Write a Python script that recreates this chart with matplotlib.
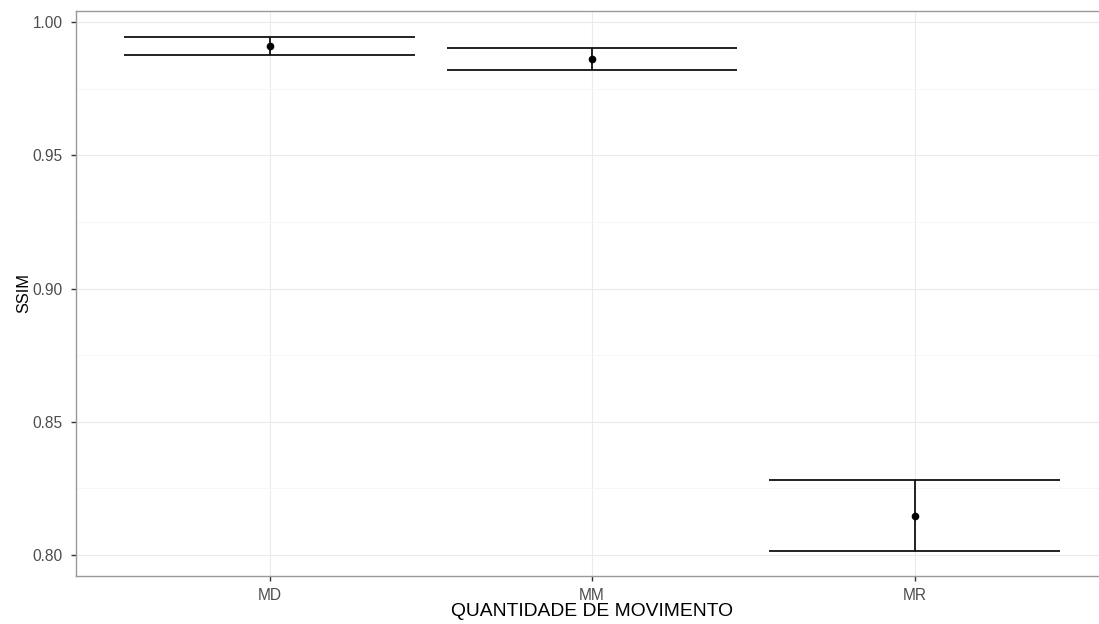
import matplotlib

matplotlib.use('Agg')
from matplotlib import pyplot as plt
from matplotlib.ticker import MultipleLocator, FormatStrFormatter

plt.rcParams['font.family'] = ['Liberation Sans', 'DejaVu Sans']

# SSIM por quantidade de movimento (media e intervalo)
categories = ['MD', 'MM', 'MR']
ssim_mean = [0.9911, 0.9861, 0.8147]
ssim_low = [0.9877, 0.9820, 0.8016]
ssim_high = [0.9945, 0.9902, 0.8280]

fig = plt.figure(figsize=(10.99, 6.24), dpi=100)
# panel is wider than the picture: right border is cut off like in the original
ax = fig.add_axes([76 / 1099, 48.3 / 624, 1032 / 1099, 564.7 / 624])

xs = list(range(1, len(categories) + 1))
bar_w = 0.9
left = [x - bar_w / 2 for x in xs]
right = [x + bar_w / 2 for x in xs]
ax.hlines(ssim_high, left, right, color='#111111', linewidth=1.3, zorder=3)
ax.hlines(ssim_low, left, right, color='#111111', linewidth=1.3, zorder=3)
ax.vlines(xs, ssim_low, ssim_high, color='#111111', linewidth=1.3, zorder=3)
ax.plot(xs, ssim_mean, 'o', color='black', markersize=4.5, zorder=4)

ax.set_xlim(0.4, 3.6)
ax.set_ylim(0.7922, 1.0042)
ax.set_xticks(xs)
ax.set_xticklabels(categories)
ax.yaxis.set_major_locator(MultipleLocator(0.05))
ax.yaxis.set_minor_locator(MultipleLocator(0.025))
ax.yaxis.set_major_formatter(FormatStrFormatter('%.2f'))

ax.grid(True, which='major', color='#ebebeb', linewidth=0.8)
ax.grid(True, which='minor', axis='y', color='#f5f5f5', linewidth=0.6)
ax.set_axisbelow(True)
ax.tick_params(which='minor', length=0)
ax.tick_params(which='major', length=3.5, width=1, color='#333333',
               labelsize=11.2, labelcolor='#4d4d4d')
ax.tick_params(axis='x', pad=5.3)
ax.tick_params(axis='y', pad=6)

for s in ax.spines.values():
    s.set_color('#999999')
    s.set_linewidth(1)

ax.set_xlabel('QUANTIDADE DE MOVIMENTO', fontsize=13.9)
ax.set_ylabel('SSIM', fontsize=11.8)
ax.xaxis.set_label_coords((592 - 76) / 1032, -0.0483)
ax.yaxis.set_label_coords(-0.0431, 0.5)

plt.savefig('out.png', dpi=100)
plt.close('all')
